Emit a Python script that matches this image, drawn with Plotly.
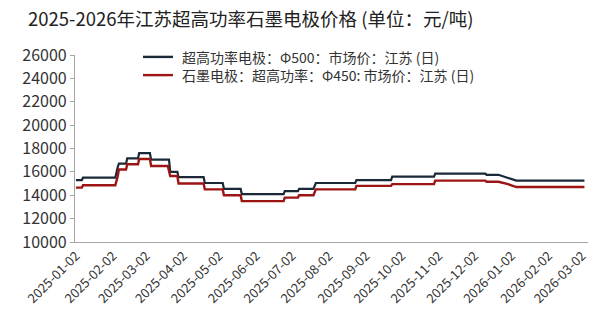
import plotly.graph_objects as go
import pandas as pd

# Daily market price, Jiangsu (yuan/ton); consecutive days mark each price change
uhp500_dates = [
    "2025-01-02", "2025-01-07", "2025-01-08", "2025-02-04", "2025-02-06", "2025-02-07",
    "2025-02-13", "2025-02-14", "2025-02-23", "2025-02-24", "2025-03-05", "2025-03-06",
    "2025-03-21", "2025-03-22", "2025-03-28", "2025-03-29", "2025-04-19", "2025-04-20",
    "2025-05-05", "2025-05-06", "2025-05-20", "2025-05-21", "2025-06-25", "2025-06-26",
    "2025-07-07", "2025-07-08", "2025-07-20", "2025-07-22", "2025-08-24", "2025-08-25",
    "2025-09-23", "2025-09-24", "2025-10-29", "2025-10-30", "2025-12-11", "2025-12-12",
    "2025-12-22", "2025-12-30", "2026-01-06", "2026-03-04",
]
uhp500_values = [
    15300, 15300, 15500, 15500, 16400, 16700,
    16700, 17150, 17150, 17600, 17600, 17050,
    17050, 16000, 16000, 15550, 15550, 15050,
    15050, 14550, 14550, 14100, 14100, 14350,
    14350, 14550, 14550, 15050, 15050, 15300,
    15300, 15600, 15600, 15850, 15850, 15750,
    15750, 15500, 15250, 15250,
]

uhp450_dates = [
    "2025-01-02", "2025-01-07", "2025-01-08", "2025-02-04", "2025-02-06", "2025-02-07",
    "2025-02-13", "2025-02-14", "2025-02-23", "2025-02-24", "2025-03-05", "2025-03-06",
    "2025-03-20", "2025-03-22", "2025-03-28", "2025-03-29", "2025-04-19", "2025-04-20",
    "2025-05-05", "2025-05-06", "2025-05-20", "2025-05-21", "2025-06-25", "2025-06-26",
    "2025-07-07", "2025-07-08", "2025-07-20", "2025-07-22", "2025-08-24", "2025-08-25",
    "2025-09-23", "2025-09-24", "2025-10-29", "2025-10-30", "2025-12-11", "2025-12-12",
    "2025-12-22", "2025-12-30", "2026-01-06", "2026-03-04",
]
uhp450_values = [
    14650, 14650, 14850, 14850, 15600, 16200,
    16200, 16650, 16650, 17100, 17100, 16500,
    16500, 15650, 15650, 15000, 15000, 14500,
    14500, 14000, 14000, 13500, 13500, 13800,
    13800, 14000, 14000, 14500, 14500, 14800,
    14800, 14950, 14950, 15250, 15250, 15150,
    15150, 14950, 14700, 14700,
]

series_names = [
    "超高功率电极：Φ500：市场价：江苏 (日)",
    "石墨电极：超高功率：Φ450: 市场价：江苏 (日)",
]
series_colors = ["#1b2838", "#9c1414"]
title_text = "2025-2026年江苏超高功率石墨电极价格 (单位：元/吨)"

tick_dates = pd.date_range("2025-01-01", "2026-03-01", freq="MS") + pd.Timedelta(days=1)
tick_labels = [d.strftime("%Y-%m-%d") for d in tick_dates]
y_ticks = list(range(10000, 26001, 2000))
y_tick_labels = [str(v) for v in y_ticks]

FONT = "Noto Sans CJK SC, Noto Sans, sans-serif"

fig = go.Figure()
for dates, values, name, color, width in [
    (uhp500_dates, uhp500_values, series_names[0], series_colors[0], 2.2),
    (uhp450_dates, uhp450_values, series_names[1], series_colors[1], 2.4),
]:
    fig.add_trace(go.Scatter(
        x=pd.to_datetime(dates), y=values, name=name,
        mode="lines", line=dict(color=color, width=width), showlegend=False,
    ))

# Compact two-row key drawn in the upper part of the plot
W, H, L, T, R, B = 600, 328, 75, 55, 12, 86
plot_w, plot_h = W - L - R, H - T - B
key_x0, key_x1, key_text_x = 143, 173, 180
key_font = 14
key_row_gap = key_font * 1.3
key_center_y = 66
key_rows_y = [key_center_y - key_row_gap / 2, key_center_y + key_row_gap / 2]


def to_paper_x(px):
    return (px - L) / plot_w


def to_paper_y(py):
    return (H - B - py) / plot_h


for color, py in zip(series_colors, key_rows_y):
    fig.add_shape(
        type="line", xref="paper", yref="paper",
        x0=to_paper_x(key_x0), x1=to_paper_x(key_x1),
        y0=to_paper_y(py), y1=to_paper_y(py),
        line=dict(color=color, width=2.4),
    )
fig.add_annotation(
    xref="paper", yref="paper", x=to_paper_x(key_text_x), y=to_paper_y(key_center_y),
    xanchor="left", yanchor="middle", align="left",
    text="<br>".join(series_names), showarrow=False,
    font=dict(size=key_font, color="#333333", family=FONT),
)

fig.update_layout(
    width=W, height=H,
    margin=dict(l=L, r=R, t=T, b=B),
    paper_bgcolor="white", plot_bgcolor="white",
    font=dict(family=FONT, color="#333333"),
    title=dict(
        text=title_text, x=0, xref="container", xanchor="left",
        y=0.94, yref="container", yanchor="middle",
        font=dict(size=18.5, color="#222222", family=FONT),
        pad=dict(l=28),
    ),
    showlegend=False,
    xaxis=dict(
        type="date",
        range=["2025-01-01 06:00", "2026-03-07"],
        tickvals=list(tick_dates), ticktext=tick_labels,
        tickangle=-45, tickfont=dict(size=13, color="#333333"),
        showgrid=False, zeroline=False,
        showline=True, linecolor="#a6a6a6", linewidth=1.2,
        ticks="",
    ),
    yaxis=dict(
        range=[10000, 26000],
        tickvals=y_ticks, ticktext=y_tick_labels,
        tickfont=dict(size=16, color="#333333"),
        showgrid=False, zeroline=False,
        showline=True, linecolor="#a6a6a6", linewidth=1.2,
        ticks="outside", ticklen=4, tickcolor="#a6a6a6",
    ),
)

fig.write_html("out.html")
